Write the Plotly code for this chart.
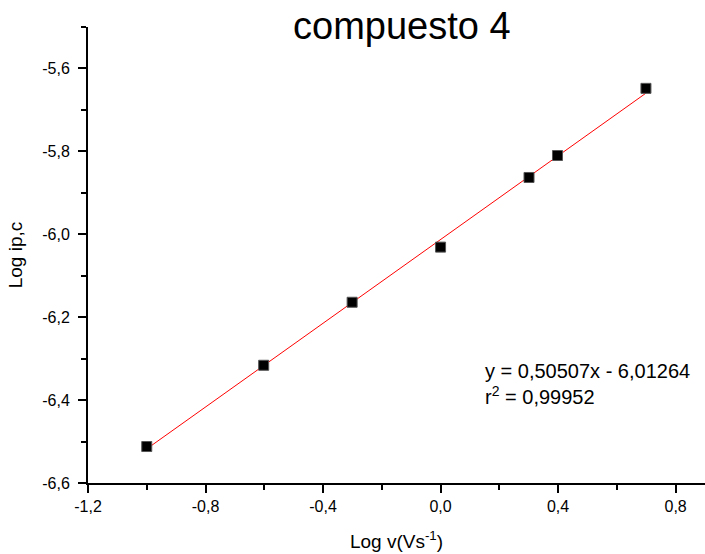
import plotly.graph_objects as go

log_v = [-1.0, -0.60206, -0.30103, 0.0, 0.30103, 0.39794, 0.69897]
log_ip = [-6.512, -6.316, -6.164, -6.031, -5.863, -5.810, -5.648]
fit_slope = 0.50507
fit_intercept = -6.01264
fit_r2 = 0.99952

fit_x = [min(log_v), max(log_v)]
fit_y = [fit_slope * x + fit_intercept for x in fit_x]

font = "Liberation Sans, Arial, sans-serif"

fig = go.Figure()
fig.add_trace(go.Scatter(x=fit_x, y=fit_y, mode="lines",
                         line=dict(color="red", width=1), showlegend=False))
fig.add_trace(go.Scatter(x=log_v, y=log_ip, mode="markers",
                         marker=dict(symbol="square", size=10, color="black",
                                     line=dict(color="#555555", width=1)),
                         showlegend=False))

def fmt(v, n):
    return f"{v:.{n}f}".replace(".", ",")

fig.add_annotation(
    x=0.144, y=-6.361, xref="x", yref="y", xanchor="left", yanchor="middle",
    text=f"y = {fmt(fit_slope,5)}x - {fmt(-fit_intercept,5)}<br>r<sup>2</sup> = {fmt(fit_r2,5)}",
    showarrow=False, align="left", font=dict(family=font, size=20, color="black"))

xt = [-1.2, -0.8, -0.4, 0.0, 0.4, 0.8]
yt = [-6.6, -6.4, -6.2, -6.0, -5.8, -5.6]

fig.update_layout(
    width=705, height=554,
    margin=dict(l=88, r=0, t=27, b=71),
    plot_bgcolor="white", paper_bgcolor="white",
    font=dict(family=font, color="black"),
    title=dict(text="compuesto 4", x=0.57, xanchor="center", y=0.953, yanchor="middle",
               font=dict(family=font, size=38, color="black")),
    xaxis=dict(range=[-1.2, 0.9], tickvals=xt, ticktext=[fmt(v, 1) for v in xt],
               automargin=False,
               showgrid=False, zeroline=False, showline=True, linecolor="black", linewidth=2,
               ticks="outside", ticklen=8, tickwidth=2, tickcolor="black",
               tickfont=dict(size=16),
               minor=dict(dtick=0.2, tick0=-1.2, ticks="outside", ticklen=5, tickwidth=1.5, tickcolor="black"),
               title=dict(text="Log v(Vs<sup>-1</sup>)", font=dict(size=19), standoff=20)),
    yaxis=dict(range=[-6.6, -5.5], tickvals=yt, ticktext=[fmt(v, 1) for v in yt],
               automargin=False,
               showgrid=False, zeroline=False, showline=True, linecolor="black", linewidth=2,
               ticks="outside", ticklen=8, tickwidth=2, tickcolor="black",
               tickfont=dict(size=16), ticklabelstandoff=5,
               minor=dict(dtick=0.1, tick0=-6.6, ticks="outside", ticklen=5, tickwidth=1.5, tickcolor="black"),
               title=dict(text="Log ip,c", font=dict(size=19), standoff=15)),
)

fig.write_html("out.html", config={"displayModeBar": False},
               post_script="document.body.style.margin='0';document.body.style.overflow='hidden';")
